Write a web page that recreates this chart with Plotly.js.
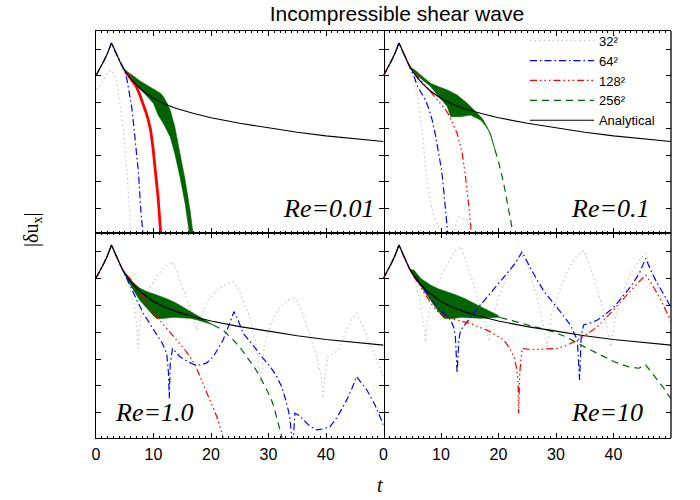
<!DOCTYPE html>
<html>
<head>
<meta charset="utf-8">
<script src="https://cdn.plot.ly/plotly-3.0.1.min.js"></script>
<style>html,body{margin:0;padding:0;background:#fff;}#chart{width:700px;height:500px;}</style>
</head>
<body>
<div id="chart"></div>
<script>
// ---------------- DATA (t, log-scaled |du_x| in tick units) ----------------
const TITLE = 'Incompressible shear wave';
const XTICKS = [0, 10, 20, 30, 40];
const XTICKTEXT = ['0', '10', '20', '30', '40'];
const RE_LABELS = ['Re=0.01', 'Re=0.1', 'Re=1.0', 'Re=10'];
const LEGEND_NAMES = ['32²', '64²', '128²', '256²', 'Analytical'];

// Analytical (same in every panel)
const T_AN = [0, 0.5, 1, 1.5, 2, 2.4, 2.7, 3.0, 3.5, 4, 4.5, 5, 6, 7, 8, 10, 12, 14, 17, 20, 25, 30, 35, 40, 45, 50];
const V_AN = [6.02, 6.21, 6.41, 6.62, 6.86, 7.06, 7.25, 7.1, 6.85, 6.6, 6.38, 6.2, 5.9, 5.66, 5.46, 5.15, 4.93, 4.77, 4.58, 4.42, 4.21, 4.04, 3.87, 3.73, 3.62, 3.52];

// ---- Re = 0.01 ----
const TL_32_T = [0, 0.5, 1, 1.5, 2, 2.6, 3.2, 3.6, 4.1, 4.7, 5.1, 5.5, 5.75, 6.0, 6.3];
const TL_32_V = [5.5, 5.6, 5.75, 5.92, 6.08, 6.23, 6.05, 5.8, 5.1, 4.1, 3.2, 2.14, 1.2, 0.25, -0.5];
const TL_64_T = [0, 1, 2, 2.7, 3.5, 4.5, 5.0, 5.4, 5.8, 6.2, 6.6, 7.0, 7.4, 7.8, 8.1, 8.4];
const TL_64_V = [6.02, 6.41, 6.86, 7.25, 6.85, 6.38, 6.2, 5.85, 5.4, 4.84, 4.05, 3.25, 2.3, 0.9, 0.06, -0.5];
const TL_128_T = [5.2, 5.6, 6.3, 7.0, 7.6, 8.2, 8.7, 9.1, 9.5, 9.9, 10.3, 10.8, 11.25, 11.5];
const TL_128_V = [6.14, 6.04, 5.82, 5.6, 5.3, 4.96, 4.62, 4.33, 3.95, 3.3, 2.5, 1.4, 0.06, -0.6];
const TL_BAND_UP_T = [4.6, 5.5, 6.5, 7.6, 8.8, 10.0, 10.6, 11.2, 11.7, 12.3, 12.9, 13.7, 14.6, 15.5, 16.35, 16.9, 17.2];
const TL_BAND_UP_V = [6.33, 6.15, 6.0, 5.82, 5.66, 5.52, 5.44, 5.35, 5.22, 5.0, 4.71, 4.08, 3.07, 2.06, 0.93, 0.06, -0.5];
const TL_BAND_LO_T = [4.6, 5.5, 6.5, 7.3, 8.2, 9.1, 10.0, 10.8, 11.7, 12.9, 13.7, 14.6, 15.5, 16.2, 16.6];
const TL_BAND_LO_V = [6.3, 6.02, 5.78, 5.6, 5.4, 5.18, 4.96, 4.52, 4.21, 3.7, 3.07, 2.19, 1.18, 0.06, -0.5];

// ---- Re = 0.1 ----
const TR_32_T = [0, 1, 2, 2.7, 3.5, 4.2, 4.8, 5.3, 5.9, 6.7, 7.3, 7.9, 8.5, 9.0, 9.5, 10.0, 10.5, 11.5, 12.3, 13.1, 13.8, 14.5, 15.1, 15.5];
const TR_32_V = [6.02, 6.41, 6.86, 7.25, 6.85, 6.5, 6.15, 5.8, 5.28, 3.96, 2.57, 1.56, 0.9, 0.55, 0.3, 0.1, -0.3, -0.3, 0.2, 0.68, 0.6, 0.55, 0.06, -0.5];
const TR_64_T = [0, 1, 2, 2.7, 3.5, 4.5, 5.3, 5.9, 6.6, 7.3, 7.9, 8.5, 9.0, 9.4, 9.8, 10.1, 10.4, 10.7, 11.07, 11.4];
const TR_64_V = [6.02, 6.41, 6.86, 7.25, 6.85, 6.38, 6.0, 5.6, 5.35, 5.09, 4.75, 4.3, 3.8, 3.3, 2.85, 2.44, 1.85, 1.18, 0.17, -0.5];
const TR_128_T = [0, 1, 2, 2.7, 3.5, 4.5, 5.5, 6.5, 7.5, 8.2, 9.0, 9.9, 10.7, 11.4, 12.0, 12.8, 13.7, 14.26, 14.84, 15.25, 15.6];
const TR_128_V = [6.02, 6.41, 6.86, 7.25, 6.85, 6.38, 6.1, 5.84, 5.6, 5.42, 5.2, 4.96, 4.75, 4.52, 4.25, 3.83, 3.07, 2.19, 1.06, 0.06, -0.6];
const TR_BAND_UP_T = [4.6, 5.3, 6.5, 8.2, 9.5, 11.1, 12.8, 14.6, 16.3, 17.2, 18.0, 18.7, 19.4];
const TR_BAND_UP_V = [6.33, 6.25, 6.03, 5.72, 5.6, 5.47, 5.28, 4.96, 4.59, 4.38, 4.08, 3.7, 3.2];
const TR_BAND_LO_T = [4.6, 5.3, 6.5, 8.2, 9.5, 11.1, 11.7, 13.4, 15.1, 16.9, 17.8, 18.6, 19.4];
const TR_BAND_LO_V = [6.3, 6.15, 5.9, 5.6, 5.25, 4.84, 4.46, 4.46, 4.52, 4.33, 4.1, 3.83, 3.2];
const TR_256_T = [19.4, 20.06, 20.9, 21.8, 22.55, 23.0];
const TR_256_V = [3.2, 2.7, 1.94, 0.93, 0.06, -0.5];

// ---- Re = 1.0 ----
const BL_32_T = [0, 1, 2, 2.7, 3.5, 4.5, 5.3, 6.0, 6.6, 7.0, 7.36, 7.65, 8.5, 10.0, 11.5, 12.5, 13.2, 14.0, 15.0, 16.0, 17.0, 17.5, 18.0, 19.5, 21.0, 22.5, 23.9, 25.0, 26.5, 27.8, 28.6, 29.3, 30.5, 32.0, 33.5, 34.6, 35.8, 37.0, 38.5, 39.2, 39.5, 39.8, 40.3, 42.0, 43.5, 44.5, 45.3, 46.5, 48.0, 49.3, 50.0];
const BL_32_V = [6.02, 6.41, 6.86, 7.25, 6.85, 6.38, 6.0, 5.6, 5.1, 4.4, 3.4, 4.5, 5.3, 5.9, 6.35, 6.55, 6.63, 6.3, 5.7, 5.1, 4.5, 4.08, 4.5, 5.2, 5.55, 5.8, 5.89, 5.5, 4.7, 3.6, 2.1, 3.5, 4.4, 4.95, 5.2, 5.27, 4.8, 4.0, 3.0, 2.3, 1.54, 2.3, 3.1, 3.3, 4.0, 4.5, 4.71, 4.2, 3.4, 2.7, 2.35];
const BL_64_T = [0, 1, 2, 2.7, 3.5, 4.5, 5.3, 6.0, 7.0, 8.2, 9.3, 10.55, 11.5, 12.3, 12.6, 12.75, 12.9, 13.3, 14.6, 16.0, 17.0, 18.1, 19.2, 20.4, 21.3, 22.1, 23.0, 24.0, 24.8, 25.6, 27.0, 27.9, 29.0, 30.3, 31.3, 32.3, 33.1, 33.7, 34.2, 34.6, 35.3, 36.1, 37.2, 38.4, 39.5, 40.7, 42.0, 43.6, 44.6, 45.3, 46.2, 47.1, 48.5, 50];
const BL_64_V = [6.02, 6.41, 6.86, 7.25, 6.85, 6.38, 6.0, 5.7, 5.25, 4.71, 4.35, 3.96, 3.6, 3.22, 2.5, 1.54, 2.8, 3.4, 3.09, 2.9, 2.8, 2.78, 2.85, 3.09, 3.4, 3.71, 4.2, 4.77, 4.4, 3.96, 3.6, 3.34, 3.05, 2.72, 2.4, 1.97, 1.4, 0.86, -0.3, 0.98, 0.9, 0.73, 0.5, 0.36, 0.4, 0.48, 0.85, 1.48, 1.95, 2.35, 2.1, 1.85, 1.3, 0.54];
const BL_128_T = [0, 1, 2, 2.7, 3.5, 4.5, 5.5, 6.5, 7.5, 8.5, 9.5, 10.8, 12.0, 13.0, 14.0, 15.2, 16.35, 17.3, 18.1, 18.8, 19.5, 20.3, 21.0, 21.5, 22.0, 22.3];
const BL_128_V = [6.02, 6.41, 6.86, 7.25, 6.85, 6.38, 6.1, 5.85, 5.55, 5.2, 4.85, 4.52, 4.2, 3.95, 3.71, 3.42, 3.09, 2.75, 2.35, 2.0, 1.6, 1.2, 0.86, 0.5, 0.17, -0.3];
const BL_BAND_UP_T = [4.6, 5.5, 6.5, 7.65, 9.0, 10.55, 12.3, 14.0, 15.2, 16.35, 17.5, 18.7, 19.6, 20.4];
const BL_BAND_UP_V = [6.33, 6.1, 5.85, 5.64, 5.5, 5.39, 5.25, 5.08, 4.93, 4.77, 4.62, 4.46, 4.35, 4.27];
const BL_BAND_LO_T = [4.6, 5.5, 6.5, 7.6, 8.8, 10.0, 10.55, 12.0, 13.4, 15.0, 16.35, 17.5, 18.7, 19.6, 20.4];
const BL_BAND_LO_V = [6.3, 5.95, 5.58, 5.2, 4.89, 4.62, 4.5, 4.52, 4.56, 4.55, 4.52, 4.47, 4.4, 4.33, 4.27];
const BL_256_T = [20.4, 22.1, 23.9, 25.0, 26.2, 27.4, 28.5, 29.4, 30.3, 30.9, 31.4, 31.9, 32.3, 32.6];
const BL_256_V = [4.27, 4.08, 3.71, 3.45, 3.09, 2.75, 2.35, 2.0, 1.6, 1.25, 0.86, 0.45, 0.11, -0.3];

// ---- Re = 10 ----
const BR_32_T = [0, 1, 2, 2.7, 3.5, 4.5, 5.5, 6.5, 7.0, 7.3, 7.6, 8.5, 10.0, 11.5, 12.6, 13.4, 14.3, 15.5, 16.8, 17.8, 18.3, 18.8, 20.0, 21.5, 23.0, 24.0, 25.0, 26.3, 27.5, 28.5, 29.2, 30.5, 32.0, 33.5, 34.8, 36.0, 37.3, 38.6, 39.5, 40.3, 41.5, 43.0, 44.5, 45.6, 47.0, 48.5, 50.0];
const BR_32_V = [6.02, 6.41, 6.86, 7.25, 6.85, 6.38, 5.9, 5.0, 4.3, 3.65, 4.4, 5.3, 6.1, 6.7, 7.05, 7.19, 6.7, 5.9, 5.0, 4.3, 3.65, 4.4, 5.3, 6.1, 6.65, 6.9, 6.5, 5.6, 4.6, 3.46, 4.6, 5.5, 6.3, 6.8, 7.04, 6.4, 5.5, 4.5, 3.46, 4.5, 5.4, 6.2, 6.7, 6.94, 6.2, 5.2, 4.3];
const BR_64_T = [0, 1, 2, 2.7, 3.5, 4.5, 5.5, 6.5, 7.5, 8.5, 9.9, 11.0, 11.65, 12.2, 12.5, 12.8, 13.1, 13.4, 14.5, 15.7, 17.0, 18.6, 20.0, 21.5, 23.0, 24.1, 25.3, 26.7, 28.0, 29.6, 31.0, 32.5, 33.2, 33.7, 34.1, 34.4, 34.8, 36.0, 37.2, 38.5, 40.1, 41.5, 43.0, 44.5, 45.6, 46.5, 47.6, 48.8, 49.9];
const BR_64_V = [6.02, 6.41, 6.86, 7.25, 6.85, 6.38, 6.05, 5.75, 5.45, 5.15, 4.83, 4.6, 4.46, 4.2, 3.84, 2.47, 3.7, 4.08, 4.4, 4.71, 5.05, 5.45, 5.8, 6.2, 6.6, 7.0, 6.5, 5.95, 5.5, 5.08, 4.7, 4.27, 3.95, 3.71, 2.22, 3.9, 4.27, 4.35, 4.46, 4.65, 4.95, 5.3, 5.7, 6.2, 6.76, 6.3, 5.82, 5.4, 4.95];
const BR_128_T = [0, 1, 2, 2.7, 3.5, 4.5, 5.5, 6.5, 7.5, 8.5, 9.5, 10.5, 12.0, 13.5, 15.1, 16.5, 18.0, 19.5, 20.9, 21.8, 22.7, 23.1, 23.4, 23.5, 23.7, 24.1, 25.0, 26.7, 28.5, 30.2, 32.0, 33.7, 35.5, 37.2, 39.2, 41.2, 43.0, 44.5, 45.6, 46.5, 47.6, 48.8, 49.9];
const BR_128_V = [6.02, 6.41, 6.86, 7.25, 6.85, 6.38, 6.0, 5.65, 5.3, 5.0, 4.75, 4.58, 4.5, 4.42, 4.33, 4.2, 4.08, 3.9, 3.71, 3.45, 3.09, 2.7, 2.22, 0.98, 2.5, 3.4, 3.37, 3.36, 3.37, 3.4, 3.52, 3.71, 3.95, 4.21, 4.65, 5.14, 5.55, 5.9, 6.13, 5.85, 5.45, 4.95, 4.46];
const BR_BAND_UP_T = [4.6, 5.28, 6.5, 8.17, 9.5, 11.07, 12.5, 14.0, 15.5, 16.9, 18.3, 19.8, 20.3];
const BR_BAND_UP_V = [6.33, 6.32, 6.0, 5.76, 5.62, 5.51, 5.4, 5.27, 5.12, 4.95, 4.8, 4.64, 4.55];
const BR_BAND_LO_T = [4.6, 5.5, 6.5, 7.3, 8.2, 9.3, 10.5, 12.0, 13.4, 15.0, 16.9, 18.5, 19.8, 20.3];
const BR_BAND_LO_V = [6.3, 6.0, 5.72, 5.48, 5.2, 4.85, 4.52, 4.5, 4.56, 4.54, 4.52, 4.54, 4.56, 4.55];
const BR_256_T = [20.3, 22.7, 25.5, 28.5, 31.5, 34.3, 37.2, 40.1, 42.5, 44.4, 45.6, 46.6, 47.6, 48.8, 49.9];
const BR_256_V = [4.55, 4.4, 4.25, 4.09, 3.85, 3.53, 3.2, 2.9, 2.72, 2.66, 2.78, 2.5, 2.22, 1.9, 1.54];

// ---------------- STYLES ----------------
const C32 = '#c8c8c8', C64 = '#0000ff', C128 = '#ff0000', C256 = '#006400', CAN = '#000000';
const D32 = '1.5px,3px';
const D64 = '7px,3px,1.5px,3px';
const D128 = '7px,3px,1.5px,3px,1.5px,3px,1.5px,3px';
const D256 = '7px,5px';

const traces = [];
function addLine(xa, ya, t, v, color, dash, width, legIdx, showleg) {
  traces.push({
    type: 'scatter', mode: 'lines', x: t, y: v, xaxis: xa, yaxis: ya,
    line: {color: color, dash: dash, width: width},
    name: LEGEND_NAMES[legIdx], legendrank: legIdx + 1,
    showlegend: !!showleg, hoverinfo: 'skip'
  });
}
function addBand(xa, ya, tu, vu, tl, vl) {
  traces.push({
    type: 'scatter', mode: 'lines',
    x: tu.concat(tl.slice().reverse()), y: vu.concat(vl.slice().reverse()),
    xaxis: xa, yaxis: ya, fill: 'toself', fillcolor: C256,
    line: {color: C256, width: 0.6}, showlegend: false, hoverinfo: 'skip'
  });
}

// Panel TL (Re=0.01)
addLine('x', 'y', TL_32_T, TL_32_V, C32, D32, 1.2, 0, false);
addBand('x', 'y', TL_BAND_UP_T, TL_BAND_UP_V, TL_BAND_LO_T, TL_BAND_LO_V);
addLine('x', 'y', TL_64_T, TL_64_V, C64, D64, 1.2, 1, false);
addLine('x', 'y', TL_128_T, TL_128_V, C128, 'solid', 2.8, 2, false);
addLine('x', 'y', T_AN, V_AN, CAN, 'solid', 1.2, 4, false);

// Panel TR (Re=0.1) - carries the legend
addLine('x2', 'y2', TR_32_T, TR_32_V, C32, D32, 1.2, 0, true);
addBand('x2', 'y2', TR_BAND_UP_T, TR_BAND_UP_V, TR_BAND_LO_T, TR_BAND_LO_V);
addLine('x2', 'y2', TR_64_T, TR_64_V, C64, D64, 1.2, 1, true);
addLine('x2', 'y2', TR_128_T, TR_128_V, C128, D128, 1.2, 2, true);
addLine('x2', 'y2', TR_256_T, TR_256_V, C256, D256, 1.2, 3, true);
addLine('x2', 'y2', T_AN, V_AN, CAN, 'solid', 1.2, 4, true);

// Panel BL (Re=1.0)
addLine('x3', 'y3', BL_32_T, BL_32_V, C32, D32, 1.2, 0, false);
addBand('x3', 'y3', BL_BAND_UP_T, BL_BAND_UP_V, BL_BAND_LO_T, BL_BAND_LO_V);
addLine('x3', 'y3', BL_64_T, BL_64_V, C64, D64, 1.2, 1, false);
addLine('x3', 'y3', BL_128_T, BL_128_V, C128, D128, 1.2, 2, false);
addLine('x3', 'y3', BL_256_T, BL_256_V, C256, D256, 1.2, 3, false);
addLine('x3', 'y3', T_AN, V_AN, CAN, 'solid', 1.2, 4, false);

// Panel BR (Re=10)
addLine('x4', 'y4', BR_32_T, BR_32_V, C32, D32, 1.2, 0, false);
addBand('x4', 'y4', BR_BAND_UP_T, BR_BAND_UP_V, BR_BAND_LO_T, BR_BAND_LO_V);
addLine('x4', 'y4', BR_64_T, BR_64_V, C64, D64, 1.2, 1, false);
addLine('x4', 'y4', BR_128_T, BR_128_V, C128, D128, 1.2, 2, false);
addLine('x4', 'y4', BR_256_T, BR_256_V, C256, D256, 1.2, 3, false);
addLine('x4', 'y4', T_AN, V_AN, CAN, 'solid', 1.2, 4, false);

// ---------------- LAYOUT ----------------
const TICKFONT = {family: 'Liberation Sans, Arial, sans-serif', size: 16, color: '#000'};
function xAxis(domain, anchor, labels) {
  return {
    domain: domain, anchor: anchor, range: [0, 50], showgrid: false, zeroline: false,
    showline: true, linecolor: '#000', linewidth: 1.3, mirror: 'ticks',
    ticks: 'inside', ticklen: 5, tickwidth: 1, tickcolor: '#000',
    tickmode: 'array', tickvals: XTICKS, ticktext: XTICKTEXT,
    showticklabels: labels, tickfont: TICKFONT, ticklabelstandoff: 1,
    minor: {ticks: 'inside', ticklen: 2, tickwidth: 1, tickcolor: '#000', tickmode: 'linear', tick0: 0, dtick: 1}
  };
}
function yAxis(domain, anchor, line) {
  return {
    domain: domain, anchor: anchor, range: [0.06, 7.7], showgrid: false, zeroline: false,
    showline: line, linecolor: '#000', linewidth: 1.3, mirror: 'ticks',
    ticks: 'inside', ticklen: 5, tickwidth: 1, tickcolor: '#000',
    tickmode: 'linear', tick0: 0, dtick: 1, showticklabels: false
  };
}
const YSPLIT = 0.5037;
const RE_FONT = {family: 'Liberation Serif, Times New Roman, serif', size: 26, color: '#000'};
const layout = {
  width: 700, height: 500,
  margin: {l: 96, r: 29, t: 31, b: 62, pad: 0},
  paper_bgcolor: '#fff', plot_bgcolor: '#fff',
  title: {text: TITLE, x: 0.567, xanchor: 'center', y: 0.972, yanchor: 'middle',
          font: {family: 'Liberation Sans, Arial, sans-serif', size: 21, color: '#000'}},
  xaxis: xAxis([0, 0.5], 'y', false),
  yaxis: yAxis([YSPLIT, 1], 'x', true),
  xaxis2: xAxis([0.5, 1], 'y2', false),
  yaxis2: yAxis([YSPLIT, 1], 'x2', false),
  xaxis3: xAxis([0, 0.5], 'y3', true),
  yaxis3: yAxis([0, YSPLIT], 'x3', true),
  xaxis4: xAxis([0.5, 1], 'y4', true),
  yaxis4: yAxis([0, YSPLIT], 'x4', false),
  shapes: [
    {type: 'line', xref: 'x2 domain', yref: 'y2 domain', x0: 1, x1: 1, y0: 0, y1: 1, line: {color: '#000', width: 1.3}},
    {type: 'line', xref: 'x4 domain', yref: 'y4 domain', x0: 1, x1: 1, y0: 0, y1: 1, line: {color: '#000', width: 1.3}}
  ],
  showlegend: true,
  legend: {x: 0.746, xanchor: 'left', y: 1.013, yanchor: 'top', bgcolor: 'rgba(0,0,0,0)',
           borderwidth: 0, itemwidth: 64, traceorder: 'normal',
           font: {family: 'Liberation Sans, Arial, sans-serif', size: 13, color: '#000'}},
  annotations: [
    {xref: 'x', yref: 'y', x: 32.2, y: 1.0, xanchor: 'left', yanchor: 'middle', showarrow: false, text: '<i>' + RE_LABELS[0] + '</i>', font: RE_FONT},
    {xref: 'x2', yref: 'y2', x: 32.2, y: 1.0, xanchor: 'left', yanchor: 'middle', showarrow: false, text: '<i>' + RE_LABELS[1] + '</i>', font: RE_FONT},
    {xref: 'x3', yref: 'y3', x: 3.0, y: 1.0, xanchor: 'left', yanchor: 'middle', showarrow: false, text: '<i>' + RE_LABELS[2] + '</i>', font: RE_FONT},
    {xref: 'x4', yref: 'y4', x: 32.2, y: 1.0, xanchor: 'left', yanchor: 'middle', showarrow: false, text: '<i>' + RE_LABELS[3] + '</i>', font: RE_FONT},
    {xref: 'paper', yref: 'paper', x: -0.1113, y: 0.511, xanchor: 'center', yanchor: 'middle', showarrow: false, textangle: -90,
     text: '|δu<sub>x</sub>|', font: {family: 'Liberation Serif, Times New Roman, serif', size: 20, color: '#000'}},
    {xref: 'paper', yref: 'paper', x: 0.4939, y: -0.1155, xanchor: 'center', yanchor: 'middle', showarrow: false,
     text: '<i>t</i>', font: {family: 'Liberation Serif, Times New Roman, serif', size: 20, color: '#000'}}
  ]
};

Plotly.newPlot('chart', traces, layout, {displayModeBar: false, staticPlot: true});
</script>
</body>
</html>
